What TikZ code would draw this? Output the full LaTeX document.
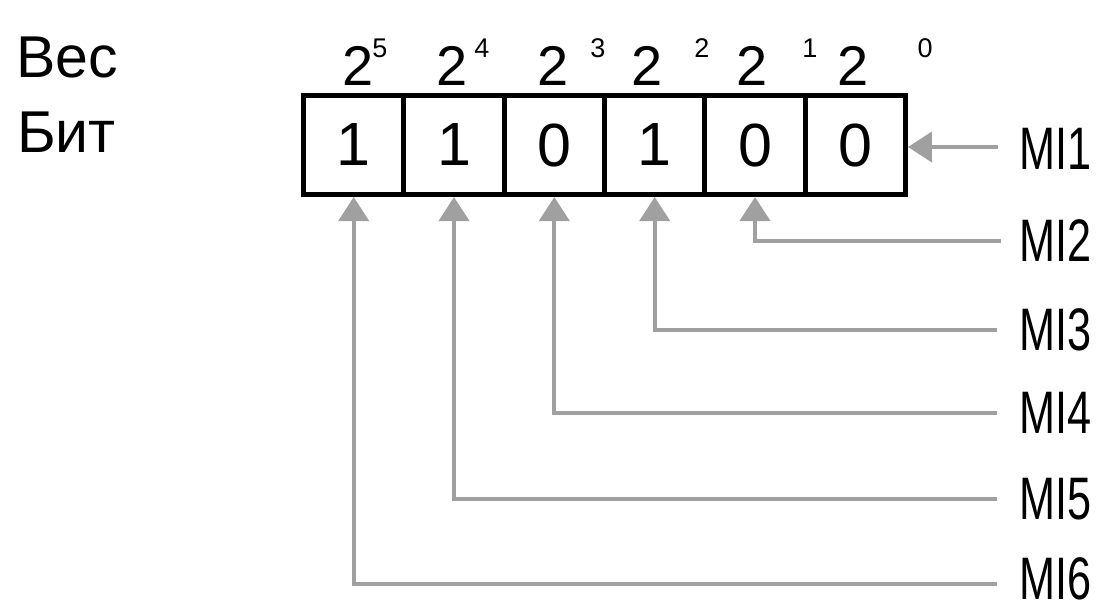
\documentclass[tikz,border=0pt]{standalone}
\usepackage{fontspec}
\setmainfont{Liberation Sans}
\usetikzlibrary{arrows.meta}
\definecolor{arrgray}{HTML}{A0A0A0}
\begin{document}
\begin{tikzpicture}[x=1pt,y=-1pt,
  cell/.style={draw=black,line width=5pt,minimum width=100.33pt,minimum height=99pt,inner sep=0pt,font=\fontsize{61}{61}\selectfont},
  wt/.style={anchor=base,inner sep=0pt,font=\fontsize{56}{56}\selectfont},
  ex/.style={anchor=base,inner sep=0pt,font=\fontsize{27}{27}\selectfont},
  lbl/.style={anchor=west,inner sep=0pt,font=\fontsize{60}{60}\selectfont},
  head/.style={anchor=base west,inner sep=0pt,font=\fontsize{59}{59}\selectfont},
  arr/.style={draw=arrgray,line width=4pt,-{Triangle[length=24pt,width=30pt]}}]
\useasboundingbox (0,0) rectangle (1109,608);
% row headings
\node[head] (ves) at (16,77) {Вес};
\node[head] (bit) at (17,152) {Бит};
% cells
\node[cell] (c1) at (353.7,145) {1};
\node[cell] (c2) at (454.0,145) {1};
\node[cell] (c3) at (554.3,145) {0};
\node[cell] (c4) at (654.7,145) {1};
\node[cell] (c5) at (755.0,145) {0};
\node[cell] (c6) at (855.3,145) {0};
% weights
\node[wt] (w5) at (358,85) {2};
\node[wt] (w4) at (452,85) {2};
\node[wt] (w3) at (553,85) {2};
\node[wt] (w2) at (647,85) {2};
\node[wt] (w1) at (752,85) {2};
\node[wt] (w0) at (853,85) {2};
\node[ex] (e5) at (380,57) {5};
\node[ex] (e4) at (482,57) {4};
\node[ex] (e3) at (598,57) {3};
\node[ex] (e2) at (702,57) {2};
\node[ex] (e1) at (810,57) {1};
\node[ex] (e0) at (925,57) {0};
% input labels
\node[lbl] (m1) at (1019,149) {\scalebox{0.72}[1]{MI1}};
\node[lbl] (m2) at (1019,241) {\scalebox{0.72}[1]{MI2}};
\node[lbl] (m3) at (1019,330) {\scalebox{0.72}[1]{MI3}};
\node[lbl] (m4) at (1019,413) {\scalebox{0.72}[1]{MI4}};
\node[lbl] (m5) at (1019,499) {\scalebox{0.72}[1]{MI5}};
\node[lbl] (m6) at (1019,579) {\scalebox{0.72}[1]{MI6}};
% connectors
\coordinate (s1) at (998,147);
\coordinate (s6) at (997,584);
\draw[arr] (s1) -- (s1 -| c6.east);
\draw[arr] ([xshift=-18pt]m2.west) -| (c5.south);
\draw[arr] ([xshift=-22pt]m3.west) -| (c4.south);
\draw[arr] ([xshift=-22pt]m4.west) -| (c3.south);
\draw[arr] ([xshift=-22pt]m5.west) -| (c2.south);
\draw[arr] (s6) -| (c1.south);
\end{tikzpicture}
\end{document}
